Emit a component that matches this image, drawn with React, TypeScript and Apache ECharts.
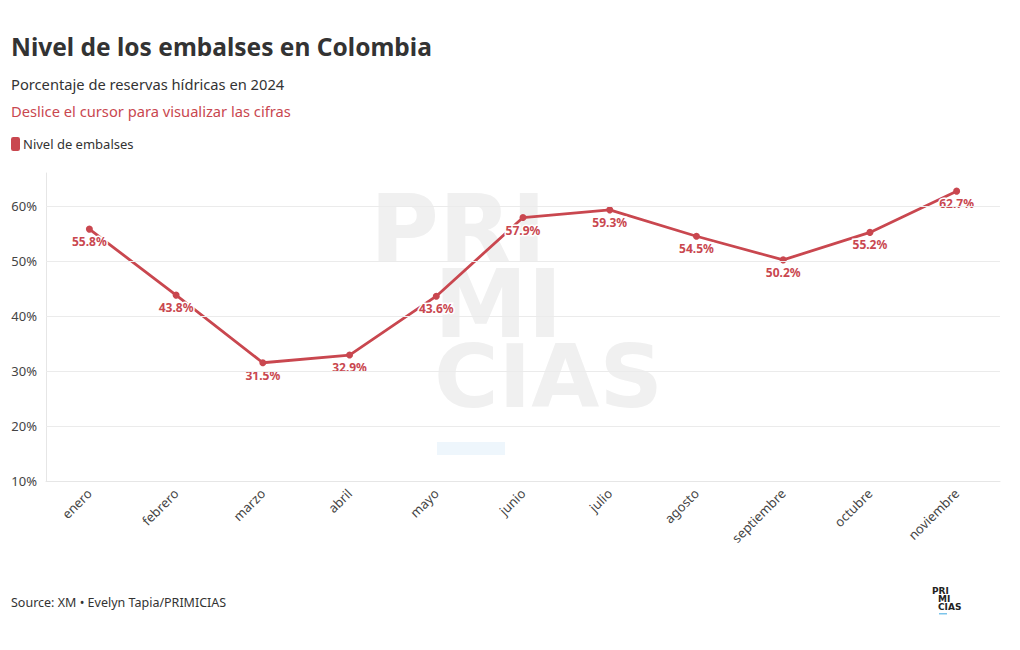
import React, { useEffect, useRef } from "react";
import * as echarts from "echarts";

const categories = ["enero", "febrero", "marzo", "abril", "mayo", "junio", "julio", "agosto", "septiembre", "octubre", "noviembre"];
const nivel = [55.8, 43.8, 31.5, 32.9, 43.6, 57.9, 59.3, 54.5, 50.2, 55.2, 62.7];
const gridTicks = [20, 30, 40, 50, 60];

const RED = "#c9474f";
const FONT = "Noto Sans";

export default function App() {
  const ref = useRef<HTMLDivElement>(null);
  useEffect(() => {
    document.body.style.margin = "0";
    const chart = echarts.init(ref.current!, null, { renderer: "svg" });
    chart.setOption({
      animation: false,
      backgroundColor: "#ffffff",
      textStyle: { fontFamily: FONT },
      grid: { left: 46, right: 20, top: 173, bottom: 650 - 481, containLabel: false },
      legend: {
        left: 6,
        top: 132,
        icon: "roundRect",
        itemWidth: 9,
        itemHeight: 14,
        itemGap: 4,
        textStyle: { fontFamily: FONT, fontSize: 13, color: "#333", padding: [0, 0, 0, -2] },
        data: ["Nivel de embalses"],
      },
      graphic: [
        { type: "text", left: 11, top: 34, z: 10, style: { text: "Nivel de los embalses en Colombia", font: `bold 24.5px '${FONT}'`, fill: "#333" } },
        { type: "text", left: 11, top: 76, z: 10, style: { text: "Porcentaje de reservas hídricas en 2024", font: `14.7px '${FONT}'`, fill: "#333" } },
        { type: "text", left: 11, top: 103, z: 10, style: { text: "Deslice el cursor para visualizar las cifras", font: `14.7px '${FONT}'`, fill: RED } },
        { type: "text", left: 11, top: 596, z: 10, style: { text: "Source: XM • Evelyn Tapia/PRIMICIAS", font: `12.5px '${FONT}'`, fill: "#333" } },
        // watermark
        { type: "text", left: 370, top: 182, z: 0, silent: true, style: { text: "PRI", font: `bold 94px 'DejaVu Sans'`, fill: "#f0f0f0" } },
        { type: "text", left: 434, top: 257, z: 0, silent: true, style: { text: "MI", font: `bold 94px 'DejaVu Sans'`, fill: "#f0f0f0" } },
        { type: "text", left: 434, top: 332, z: 0, silent: true, style: { text: "CIAS", font: `bold 88px 'DejaVu Sans'`, fill: "#f0f0f0" } },
        { type: "rect", left: 437, top: 442, z: 0, silent: true, shape: { width: 68, height: 13 }, style: { fill: "#eef6fc" } },
        // small logo
        { type: "text", left: 932, top: 586, z: 10, style: { text: "PRI", font: `bold 9px 'DejaVu Sans'`, fill: "#222" } },
        { type: "text", left: 938, top: 594, z: 10, style: { text: "MI", font: `bold 9px 'DejaVu Sans'`, fill: "#222" } },
        { type: "text", left: 938, top: 602, z: 10, style: { text: "CIAS", font: `bold 9px 'DejaVu Sans'`, fill: "#222" } },
        { type: "rect", left: 939, top: 613, z: 10, shape: { width: 8, height: 1.5 }, style: { fill: "#7cc4ea" } },
      ],
      xAxis: {
        type: "category",
        data: categories,
        boundaryGap: true,
        axisLine: { show: true, lineStyle: { color: "#e6e6e6", width: 1 } },
        axisTick: { show: false },
        axisLabel: { rotate: 45, color: "#444", fontSize: 13, fontFamily: FONT, margin: 10, interval: 0 },
        splitLine: { show: false },
      },
      yAxis: {
        type: "value",
        min: 10,
        max: 66,
        interval: 10,
        axisLine: { show: true, lineStyle: { color: "#e6e6e6", width: 1 } },
        axisTick: { show: false },
        splitLine: { show: false },
        axisLabel: {
          color: "#444",
          fontSize: 13,
          fontFamily: FONT,
          margin: 9,
          showMaxLabel: false,
          formatter: (v: number) => (v % 10 === 0 ? `${v}%` : ""),
        },
      },
      series: [
        {
          name: "grid",
          type: "line",
          data: [],
          z: 1,
          silent: true,
          markLine: {
            silent: true,
            symbol: "none",
            label: { show: false },
            lineStyle: { color: "#ebebeb", width: 1, type: "solid" },
            data: gridTicks.map((v) => ({ yAxis: v })),
          },
        },
        {
          name: "Nivel de embalses",
          type: "line",
          data: nivel,
          z: 3,
          color: RED,
          symbol: "circle",
          symbolSize: 7,
          lineStyle: { color: RED, width: 2.8 },
          itemStyle: { color: RED },
          label: {
            show: true,
            position: "bottom",
            distance: 3,
            formatter: (p: any) => `${p.value.toFixed(1)}%`,
            color: RED,
            fontWeight: "bold",
            fontSize: 12,
            fontFamily: FONT,
            textBorderColor: "#ffffff",
            textBorderWidth: 3,
          },
        },
      ],
    });
    return () => chart.dispose();
  }, []);
  return <div ref={ref} style={{ width: 1020, height: 650 }} />;
}
